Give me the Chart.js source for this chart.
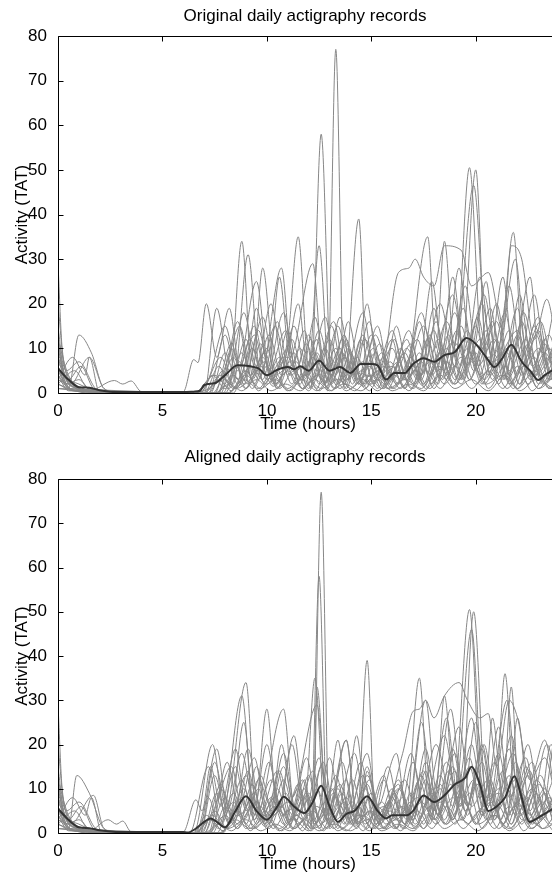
<!DOCTYPE html>
<html>
<head>
<meta charset="utf-8">
<script src="https://cdn.jsdelivr.net/npm/chart.js@4"></script>
<style>
  body { margin: 0; background: #fff; }
  canvas { display: block; }
</style>
</head>
<body>
<canvas id="topChart" width="552" height="440"></canvas>
<canvas id="bottomChart" width="552" height="441"></canvas>
<script>
// 각 곡선은 [시간, 활동량, 시간, 활동량, ...] 형태의 매듭점
const xTicks = [0, 5, 10, 15, 20];
const yTicks = [0, 10, 20, 30, 40, 50, 60, 70, 80];

// ---- 원본 기록 (위 패널) ----
const origMean = [0,5.5, 0.5,3, 1,1.3, 1.5,1.2, 2,0.6, 2.5,0.3, 3,0.2, 6,0.2, 6.5,0.3, 6.8,0.5, 7,1.8, 7.5,2.2, 8,4, 8.6,6.2, 9.2,6, 9.6,5.5, 10,4, 10.5,5.2, 11,5.8, 11.3,5.3, 11.6,6, 12,5, 12.5,7.2, 13,5, 13.5,5.8, 14,4.5, 14.5,6.5, 15,6.5, 15.3,6.2, 15.7,3, 16.1,4.5, 16.6,4.5, 17,6.5, 17.5,7.8, 18,7, 18.5,8.5, 19,9.2, 19.55,12.3, 20,11, 20.5,8, 20.9,5.8, 21.3,8, 21.7,10.8, 22.2,7, 22.6,5, 23,2.9, 23.3,4, 23.7,5.2];
const orig1 = [0,10, 0.4,3, 1,1, 2,0.3, 6,0, 7,0.5, 8,3, 8.5,1, 9.2,6, 10,2, 11,8, 11.7,3, 12.4,12, 12.9,0.5, 13.3,77, 13.7,1, 14.3,8, 15,2, 16,10, 16.6,3, 17.5,15, 18.2,5, 19,18, 19.6,6, 20.4,22, 21,8, 22,14, 22.7,3, 23.5,10, 24.2,2];
const orig2 = [0,20, 0.3,6, 1,2, 2,0.5, 6.5,0, 7.5,4, 8.2,1, 9,12, 9.6,3, 10.4,15, 11,4, 11.6,10, 12.1,1, 12.6,58, 13.1,2, 13.8,12, 14.4,3, 15.2,9, 15.8,1, 16.8,14, 17.4,4, 18.3,20, 19,6, 19.7,50.5, 20.3,10, 21,16, 21.6,4, 22.3,18, 23,5, 23.8,20];
const orig3 = [0,12, 0.5,4, 1.2,1, 2.5,0, 6.8,0, 7.8,8, 8.4,2, 9.1,31, 9.7,4, 10.7,28, 11.2,6, 11.8,14, 12.3,3, 13,12, 13.7,2, 14.4,39, 14.8,2, 15.6,8, 16.3,2, 17.2,12, 17.8,4, 18.6,16, 19.3,6, 20,50, 20.5,8, 21.2,12, 21.8,36, 22.3,6, 23,14, 23.6,3, 24.4,20];
const orig4 = [0,8, 0.6,2, 1.5,8, 2.2,1, 3,0, 7,0, 7.7,6, 8.2,2, 8.8,34, 9.3,4, 9.8,28, 10.4,5, 11,12, 11.5,35, 12,6, 12.5,33, 13,3, 13.6,12, 14.2,4, 14.8,20, 15.3,6, 16,14, 16.6,4, 17.7,35, 18.1,10, 18.5,34, 19,8, 19.9,46.5, 20.6,6, 21.3,26, 21.8,8, 22.6,26, 23.1,4, 23.8,12];
const orig5 = [0,6, 0.5,1, 1,13, 1.6,9, 2.2,1, 3,0, 6.5,0, 7.2,3, 8,15, 8.6,5, 9.5,25, 10.1,6, 10.6,26, 11.1,8, 12.2,29, 12.7,5, 13.4,15, 14,5, 14.7,12, 15.4,3, 16.3,27, 16.8,28, 17.1,30, 17.5,26, 18,24, 18.5,33, 19.3,32, 19.8,24, 20.6,27, 21.3,14, 21.7,33, 22.2,30, 22.8,12, 23.4,21, 24,6];
const orig6 = [0,5, 0.5,1, 1.5,0.5, 2.7,2.8, 3.1,2, 3.5,2.7, 4,0.3, 6,0.3, 6.5,7.5, 6.7,6.8, 7.1,20, 7.6,8, 8.2,19, 8.7,6, 9.4,15, 10,4, 10.8,18, 11.4,5, 12,13, 12.6,3, 13.3,10, 13.9,3, 14.6,13, 15.2,4, 16,12, 16.5,3, 17.4,18, 18,6, 18.9,22, 19.5,8, 20.3,20, 20.9,5, 21.6,24, 22.2,8, 23,17, 23.6,4, 24.3,20];
const orig7 = [0,3, 0.7,8, 1.3,4, 1.5,8, 2,0, 7,0, 7.6,19, 8.2,5, 8.9,18, 9.5,6, 10.2,20, 10.8,5, 11.5,20, 12,4, 12.8,17, 13.3,4, 13.9,16, 14.5,4, 15.3,15, 15.9,3, 16.6,9, 17.2,3, 17.9,25, 18.5,5, 19.2,28, 19.8,8, 20.5,25, 21,6, 21.9,30, 22.4,10, 23.1,16, 23.7,4];
const orig8 = [0,29, 0.2,10, 0.7,2, 1.5,0, 7.5,0, 8.3,11, 8.9,2, 9.6,14, 10.2,3, 11,10, 11.6,2, 12.3,17, 12.9,3, 13.6,9, 14.3,2, 15,13, 15.7,2, 16.5,8, 17.1,2, 18,14, 18.6,3, 19.4,19, 20,5, 20.8,16, 21.4,3, 22.1,22, 22.7,6, 23.5,13, 24.1,2];
const orig9 = [0,11, 0.4,5, 1,7, 1.8,1, 2.5,0, 7.8,0, 8.6,16, 9.2,4, 9.9,9, 10.5,1, 11.3,15, 11.9,4, 12.6,8, 13.2,1, 13.9,10, 14.6,2, 15.4,11, 16,3, 16.9,11, 17.5,2, 18.2,12, 18.8,4, 19.6,14, 20.2,4, 21,20, 21.6,5, 22.4,12, 23,2, 23.7,7];
const orig10 = [0,7, 0.6,2, 1.2,0.5, 8,0, 8.8,9, 9.4,2, 10.1,13, 10.7,4, 11.4,7, 12,1, 12.8,10, 13.4,2, 14.1,7, 14.7,1, 15.5,9, 16.2,2, 17,6, 17.6,1, 18.4,10, 19,3, 19.7,12, 20.4,3, 21.2,9, 21.8,2, 22.5,11, 23.2,2, 24,8];
const orig11 = [0,4, 0.5,0.5, 6.8,0, 7.4,4, 8,1, 8.7,7, 9.3,1, 10,6, 10.6,1, 11.3,5, 12,0.5, 12.7,6, 13.5,1, 14.2,5, 14.9,0.5, 15.6,6, 16.4,1, 17.1,5, 17.8,1, 18.6,7, 19.3,2, 20,9, 20.6,1, 21.4,6, 22,1, 22.8,8, 23.5,1, 24.2,5];
const orig12 = [0,2, 0.8,5, 1.4,1, 2.2,0, 7.2,0, 8,13, 8.6,3, 9.3,10, 9.9,2, 10.6,8, 11.2,2, 11.9,11, 12.5,2, 13.2,7, 13.8,1, 14.5,12, 15.1,2, 15.9,7, 16.6,1, 17.3,9, 17.9,2, 18.7,13, 19.3,3, 20.1,17, 20.7,4, 21.5,10, 22.1,2, 22.9,13, 23.5,3, 24.3,9];
const orig13 = [0,1, 1,0.5, 8.2,0, 9,5, 9.6,0.5, 10.3,4, 11,0.5, 11.7,3, 12.4,0.5, 13.1,4, 13.8,0.5, 14.6,3, 15.3,0.5, 16.1,4, 16.8,0.5, 17.6,5, 18.3,1, 19,6, 19.8,1, 20.6,5, 21.3,1, 22,6, 22.7,0.5, 23.4,4, 24.1,0.5];
const orig14 = [0,15, 0.3,4, 0.9,1, 1.8,0, 7.6,0, 8.4,8, 9,1, 9.7,11, 10.3,2, 11,14, 11.6,3, 12.3,9, 12.9,1, 13.7,13, 14.3,3, 15.1,10, 15.8,2, 16.7,12, 17.3,3, 18,19, 18.6,4, 19.3,15, 19.9,5, 20.7,19, 21.3,3, 22,13, 22.6,3, 23.3,9, 24,2];
const orig15 = [0,5, 0.8,1.5, 1.6,0.2, 7,0, 7.7,3, 8.3,0.5, 9,4, 9.7,1, 10.4,3, 11.1,0.5, 11.8,4, 12.6,1, 13.4,3, 14.2,0.5, 15,4, 15.8,1, 16.6,3, 17.4,1, 18.2,6, 19,2, 19.8,7, 20.5,2, 21.3,4, 22,1, 22.8,5, 23.6,1, 24.4,3];
const orig16 = [0,9, 0.5,3, 1.1,6, 1.7,1, 2.5,0, 7.4,0, 8.1,7, 8.7,15, 9.3,3, 10,10, 10.5,2, 11.2,12, 11.8,3, 12.5,14, 13.1,4, 13.8,11, 14.4,2, 15.2,13, 15.9,4, 16.7,10, 17.4,3, 18.1,16, 18.7,5, 19.5,24, 20.1,6, 20.9,12, 21.5,3, 22.2,16, 22.9,4, 23.6,9];
const orig17 = [0,4, 0.6,1, 7.9,0, 8.5,6, 9.1,2, 9.8,8, 10.4,2, 11.1,7, 11.7,1, 12.4,9, 13,2, 13.7,8, 14.4,2, 15,7, 15.6,1, 16.4,10, 17,2, 17.8,13, 18.4,3, 19.1,11, 19.7,3, 20.5,14, 21.1,3, 21.8,10, 22.5,2, 23.3,11, 23.8,4];
const orig18 = [0,3, 1,1, 2,0, 8.4,0, 9.2,12, 9.8,3, 10.5,16, 11.1,4, 11.8,6, 12.4,1, 13.1,15, 13.7,3, 14.6,18, 15.2,3, 16,6, 16.6,1, 17.3,16, 17.9,4, 18.6,10, 19.2,3, 20,15, 20.6,4, 21.4,18, 22,4, 22.8,22, 23.4,6, 23.8,12];
const orig19 = [0,2, 0.7,0.5, 7.2,0, 7.9,5, 8.5,1, 9.2,3, 9.9,7, 10.5,1, 11.3,9, 11.9,2, 12.6,5, 13.3,1, 14,9, 14.6,2, 15.4,5, 16.1,1, 16.9,8, 17.5,2, 18.3,9, 18.9,2, 19.6,10, 20.3,2, 21,12, 21.6,2, 22.3,7, 23,1, 23.7,6];
const orig20 = [0,6, 0.4,2, 1,3, 1.6,0.5, 7.7,0, 8.3,10, 8.9,3, 9.5,19, 10.1,5, 10.9,14, 11.5,3, 12.2,8, 12.8,2, 13.5,17, 14.1,4, 14.9,6, 15.5,1, 16.2,15, 16.8,4, 17.6,8, 18.2,2, 18.9,26, 19.5,6, 20.2,12, 20.8,3, 21.6,14, 22.2,4, 23,10, 23.7,3];
const orig21 = [0,1, 7.5,0, 8.2,2, 8.8,0.5, 9.5,3, 10.2,0.5, 10.9,2, 11.6,0.5, 12.3,3, 13,0.5, 13.7,2, 14.5,0.5, 15.3,3, 16,0.5, 16.8,2, 17.5,0.5, 18.3,4, 19,1, 19.8,3, 20.6,0.5, 21.4,4, 22.1,0.5, 22.9,3, 23.7,1];
const orig22 = [0,8, 0.4,2, 1,0.5, 7,0, 7.8,4, 8.4,1, 9.1,5, 9.8,17, 10.4,4, 11.1,6, 11.7,1, 12.5,7, 13.2,16, 13.8,3, 14.6,7, 15.3,1, 16.1,12, 16.7,3, 17.4,7, 18,1, 18.8,11, 19.4,3, 20.2,26, 20.8,7, 21.5,9, 22.1,2, 22.8,15, 23.5,4];
const orig23 = [0,3, 0.6,1, 1.4,0, 8.1,0, 8.9,3, 9.6,1, 10.3,5, 11,1, 11.8,4, 12.5,0.5, 13.3,6, 14,1, 14.8,4, 15.5,1, 16.3,5, 17,1, 17.8,7, 18.5,2, 19.3,8, 20,2, 20.8,6, 21.5,1, 22.3,6, 23,1, 23.8,4];
const orig24 = [0,12, 0.3,3, 0.9,0.5, 7.3,0, 8,9, 8.6,2, 9.4,13, 10,3, 10.8,8, 11.4,2, 12.1,12, 12.7,2, 13.5,10, 14.1,2, 14.9,16, 15.5,3, 16.3,7, 16.9,1, 17.7,12, 18.3,3, 19.1,14, 19.7,3, 20.5,11, 21.1,2, 22,19, 22.6,4, 23.3,12, 23.8,5];
const orig25 = [0,2, 1,0.3, 7.6,0, 8.4,4, 9,1, 9.7,6, 10.3,1.5, 11,5, 11.7,1, 12.4,4, 13.1,0.5, 13.9,6, 14.6,1.5, 15.3,5, 16,1, 16.8,6, 17.5,1.5, 18.3,8, 19,2, 19.7,9, 20.4,2, 21.1,7, 21.8,1, 22.6,9, 23.3,2, 23.8,6];

// ---- 정렬된 기록 (아래 패널) ----
const alignMean = [0,5.5, 0.5,3, 1,1.3, 1.5,1.1, 2,0.6, 3,0.2, 6,0.2, 6.2,0.1, 6.6,1, 7,2.5, 7.3,3.3, 7.6,2.5, 8,1.3, 8.5,5, 9,8.3, 9.5,5, 10,3, 10.5,6, 10.8,8.2, 11.3,6, 11.8,4.5, 12.2,7, 12.6,10.7, 13,6, 13.4,2.5, 13.8,4.3, 14.2,5, 14.8,8.3, 15.3,5, 15.7,3.3, 16,4, 16.7,4, 17,5, 17.5,8.5, 18,7, 18.5,8.5, 19,11, 19.5,12.5, 19.8,15, 20.2,11, 20.6,5, 21,6, 21.4,8, 21.85,12.8, 22.2,8, 22.56,2.5, 23,3.5, 23.7,5.5];
const align1 = [0,10, 0.4,3, 1,1, 2,0.3, 6.5,0, 7.3,3, 7.9,0.5, 8.8,8, 9.4,1, 10.4,6, 11,1, 11.8,10, 12.2,1, 12.6,77, 13,1, 13.8,8, 14.4,2, 14.8,14, 15.4,2, 16.4,10, 17,3, 17.6,14, 18.2,4, 19,18, 19.6,6, 20.3,20, 20.9,6, 21.8,18, 22.5,3, 23.3,10, 24,2];
const align2 = [0,20, 0.3,6, 1,2, 2,0.5, 6.3,0, 7.2,15, 7.8,2, 8.8,31, 9.4,3, 10.2,12, 10.8,4, 11.5,10, 12.1,1, 12.5,58, 12.9,2, 13.8,21, 14.3,3, 15,9, 15.6,1, 16.6,12, 17.2,4, 18.1,20, 18.9,6, 19.7,50.5, 20.3,8, 20.9,16, 21.5,4, 22,26, 22.6,5, 23.4,20, 24.1,4];
const align3 = [0,12, 0.5,4, 1.2,1, 2.5,0, 6.5,0, 7.4,20, 8,4, 9,34, 9.5,4, 10.8,28, 11.3,6, 11.8,12, 12.2,3, 12.4,33, 12.9,3, 13.8,12, 14.3,2, 14.8,39, 15.2,2, 16,8, 16.6,2, 17.3,35, 17.8,4, 18.6,16, 19.3,6, 19.9,50, 20.5,8, 21,12, 21.4,36, 21.9,6, 22.6,14, 23.1,3, 23.7,20];
const align4 = [0,8, 0.6,2, 1.7,8.5, 2.2,1, 3,0, 6.7,0, 7.6,19, 8.2,2, 8.9,25, 9.4,4, 10,28, 10.5,5, 11.3,22, 11.8,6, 12.3,35, 12.8,3, 13.4,21, 13.9,4, 14.8,18, 15.3,6, 16.2,18, 16.7,4, 17.6,30, 18.1,10, 18.5,31, 19,8, 19.8,46, 20.4,6, 20.8,26, 21.3,8, 21.7,33, 22.1,6, 22.8,14, 23.3,21, 23.9,4];
const align5 = [0,6, 0.5,1, 0.9,13, 1.5,9, 2.2,1, 3,0, 6.6,0, 7.2,8, 7.7,2, 8.5,15, 9,5, 9.6,12, 10.2,6, 10.7,20, 11.2,8, 12.4,29, 12.9,5, 13.8,21, 14.3,5, 14.9,12, 15.5,3, 16.5,18, 17,27.5, 17.3,28, 17.6,30, 18,26, 18.5,31, 19.2,34, 19.6,30, 20.2,26, 20.6,27, 21,15, 21.6,30, 22,26, 22.6,12, 23.3,17, 23.9,6];
const align6 = [0,5, 0.5,1, 1.5,0.5, 2.4,3, 2.8,2, 3.1,2.7, 3.5,0.3, 6,0.3, 6.6,7.5, 6.9,5, 7.3,15, 7.8,6, 8.5,19, 9,6, 9.5,15, 10.1,4, 10.8,18, 11.4,5, 12,13, 12.5,3, 13.2,10, 13.7,3, 14.3,22, 14.8,4, 15.6,13, 16.1,3, 16.9,18, 17.5,6, 18.5,22, 19.1,8, 19.8,20, 20.4,5, 21.1,24, 21.6,8, 22.4,17, 23,4, 23.6,20, 24.2,8];
const align7 = [0,3, 0.7,8, 1.3,4, 1.6,8, 2.1,0, 6.8,0, 7.5,16, 8.1,5, 8.8,18, 9.4,6, 10,20, 10.6,5, 11.2,20, 11.8,4, 12.5,17, 13,4, 13.6,16, 14.2,4, 14.8,15, 15.4,3, 16.1,9, 16.7,3, 17.4,25, 18,5, 18.8,28, 19.4,8, 20,25, 20.6,6, 21.5,30, 22,10, 22.7,16, 23.3,4, 23.9,12];
const align8 = [0,29, 0.2,10, 0.7,2, 1.5,0, 7,0, 7.8,11, 8.4,2, 9.1,14, 9.7,3, 10.5,10, 11.1,2, 11.9,17, 12.5,3, 13.2,9, 13.8,2, 14.6,13, 15.2,2, 16,8, 16.6,2, 17.5,14, 18.1,3, 18.9,19, 19.5,5, 20.3,16, 20.9,3, 21.7,22, 22.3,6, 23.1,13, 23.7,2];
const align9 = [0,11, 0.4,5, 1,7, 1.8,1, 2.5,0, 7.3,0, 8.1,16, 8.7,4, 9.4,9, 10,1, 10.8,15, 11.4,4, 12.1,8, 12.7,1, 13.4,10, 14.1,2, 14.8,11, 15.4,3, 16.3,11, 16.9,2, 17.6,12, 18.2,4, 19,14, 19.6,4, 20.4,20, 21,5, 21.9,12, 22.5,2, 23.2,7, 23.9,1];
const align10 = [0,7, 0.6,2, 1.2,0.5, 7.6,0, 8.4,9, 9,2, 9.7,13, 10.3,4, 11,7, 11.6,1, 12.4,10, 13,2, 13.7,7, 14.3,1, 15,9, 15.7,2, 16.5,6, 17.1,1, 17.9,10, 18.5,3, 19.2,12, 19.9,3, 20.7,9, 21.3,2, 22,11, 22.7,2, 23.5,8, 24.1,2];
const align11 = [0,4, 0.5,0.5, 6.5,0, 7.1,4, 7.7,1, 8.4,7, 9,1, 9.7,6, 10.3,1, 11,5, 11.7,0.5, 12.4,6, 13.2,1, 13.9,5, 14.6,0.5, 15.3,6, 16.1,1, 16.8,5, 17.5,1, 18.3,7, 19,2, 19.7,9, 20.3,1, 21.1,6, 21.7,1, 22.5,8, 23.2,1, 23.9,5];
const align12 = [0,2, 0.8,5, 1.4,1, 2.2,0, 6.8,0, 7.5,13, 8.1,3, 8.9,10, 9.5,2, 10.2,8, 10.8,2, 11.5,11, 12.1,2, 12.8,7, 13.4,1, 14.1,12, 14.7,2, 15.5,7, 16.2,1, 16.9,9, 17.5,2, 18.3,13, 18.9,3, 19.7,17, 20.3,4, 21.1,10, 21.7,2, 22.5,13, 23.1,3, 23.9,9];
const align13 = [0,1, 1,0.5, 7.8,0, 8.6,5, 9.2,0.5, 9.9,4, 10.6,0.5, 11.3,3, 12,0.5, 12.7,4, 13.4,0.5, 14.2,3, 14.9,0.5, 15.7,4, 16.4,0.5, 17.2,5, 17.9,1, 18.6,6, 19.4,1, 20.2,5, 20.9,1, 21.6,6, 22.3,0.5, 23,4, 23.7,0.5];
const align14 = [0,15, 0.3,4, 0.9,1, 1.8,0, 7.2,0, 8,8, 8.6,1, 9.3,11, 9.9,2, 10.6,14, 11.2,3, 11.9,9, 12.5,1, 13.3,13, 13.9,3, 14.7,10, 15.4,2, 16.3,12, 16.9,3, 17.6,19, 18.2,4, 18.9,15, 19.5,5, 20.3,19, 20.9,3, 21.6,13, 22.2,3, 22.9,9, 23.6,2, 24.3,14];
const align15 = [0,5, 0.8,1.5, 1.6,0.2, 6.6,0, 7.3,3, 7.9,0.5, 8.6,4, 9.3,1, 10,3, 10.7,0.5, 11.4,4, 12.2,1, 13,3, 13.8,0.5, 14.6,4, 15.4,1, 16.2,3, 17,1, 17.8,6, 18.6,2, 19.4,7, 20.1,2, 20.9,4, 21.6,1, 22.4,5, 23.2,1, 24,3];
const align16 = [0,9, 0.5,3, 1.1,6, 1.7,1, 2.5,0, 7,0, 7.6,7, 8.3,15, 8.9,3, 9.6,10, 10.1,2, 10.8,12, 11.4,3, 12.2,14, 12.8,4, 13.5,11, 14.1,2, 14.8,13, 15.5,4, 16.3,10, 17,3, 17.6,16, 18.3,5, 19.2,24, 19.8,6, 20.6,12, 21.2,3, 21.9,16, 22.6,4, 23.3,9, 23.8,3];
const align17 = [0,4, 0.6,1, 7.4,0, 8,6, 8.6,2, 9.3,8, 9.9,2, 10.6,7, 11.2,1, 12,9, 12.6,2, 13.3,8, 14,2, 14.6,7, 15.2,1, 16,10, 16.6,2, 17.4,13, 18,3, 18.8,11, 19.4,3, 20.1,14, 20.7,3, 21.5,10, 22.2,2, 23,11, 23.7,4];
const align18 = [0,3, 1,1, 2,0, 7.9,0, 8.8,12, 9.4,3, 10.1,16, 10.7,4, 11.4,6, 12,1, 12.6,15, 13.2,3, 14.2,18, 14.8,3, 15.6,6, 16.2,1, 17,16, 17.6,4, 18.3,10, 18.9,3, 19.7,15, 20.3,4, 21.1,18, 21.7,4, 22.5,20, 23.1,6, 23.7,12];
const align19 = [0,2, 0.7,0.5, 6.8,0, 7.5,5, 8.1,1, 8.8,3, 9.5,7, 10.1,1, 10.9,9, 11.5,2, 12.2,5, 12.9,1, 13.6,9, 14.2,2, 15,5, 15.7,1, 16.5,8, 17.1,2, 17.9,9, 18.5,2, 19.3,10, 20,2, 20.7,12, 21.3,2, 22,7, 22.7,1, 23.4,6];
const align20 = [0,6, 0.4,2, 1,3, 1.6,0.5, 7.2,0, 7.8,10, 8.4,3, 9.1,19, 9.7,5, 10.5,14, 11.1,3, 11.8,8, 12.3,2, 13,17, 13.6,4, 14.4,6, 15,1, 15.8,15, 16.4,4, 17.2,8, 17.8,2, 18.6,26, 19.2,6, 19.9,12, 20.5,3, 21.3,14, 21.9,4, 22.7,10, 23.4,3];
const align21 = [0,1, 7,0, 7.7,2, 8.3,0.5, 9,3, 9.7,0.5, 10.4,2, 11.1,0.5, 11.8,3, 12.5,0.5, 13.2,2, 14,0.5, 14.8,3, 15.5,0.5, 16.3,2, 17,0.5, 17.8,4, 18.5,1, 19.3,3, 20.1,0.5, 20.9,4, 21.6,0.5, 22.4,3, 23.2,1];
const align22 = [0,8, 0.4,2, 1,0.5, 6.6,0, 7.4,4, 8,1, 8.7,5, 9.4,17, 10,4, 10.7,6, 11.3,1, 12.1,7, 12.7,16, 13.3,3, 14.1,7, 14.8,1, 15.6,12, 16.2,3, 16.9,7, 17.5,1, 18.3,11, 18.9,3, 19.8,26, 20.4,7, 21.1,9, 21.7,2, 22.4,15, 23.1,4, 23.7,8];
const align23 = [0,3, 0.6,1, 1.4,0, 7.7,0, 8.5,3, 9.2,1, 9.9,5, 10.6,1, 11.4,4, 12.1,0.5, 12.9,6, 13.6,1, 14.4,4, 15.1,1, 15.9,5, 16.6,1, 17.4,7, 18.1,2, 18.9,8, 19.6,2, 20.4,6, 21.1,1, 21.9,6, 22.6,1, 23.4,4];
const align24 = [0,12, 0.3,3, 0.9,0.5, 6.9,0, 7.6,9, 8.2,2, 9,13, 9.6,3, 10.4,8, 11,2, 11.7,12, 12.3,2, 13.1,10, 13.7,2, 14.5,16, 15.1,3, 15.9,7, 16.5,1, 17.3,12, 17.9,3, 18.7,14, 19.3,3, 20.1,11, 20.7,2, 21.6,19, 22.2,4, 22.9,12, 23.6,5];
const align25 = [0,2, 1,0.3, 7.2,0, 8,4, 8.6,1, 9.3,6, 9.9,1.5, 10.6,5, 11.3,1, 12,4, 12.7,0.5, 13.5,6, 14.2,1.5, 14.9,5, 15.6,1, 16.4,6, 17.1,1.5, 17.9,8, 18.6,2, 19.3,9, 20,2, 20.7,7, 21.4,1, 22.2,9, 22.9,2, 23.6,6];

const origDays = [orig1, orig2, orig3, orig4, orig5, orig6, orig7, orig8, orig9, orig10, orig11, orig12, orig13,
  orig14, orig15, orig16, orig17, orig18, orig19, orig20, orig21, orig22, orig23, orig24, orig25];
const alignDays = [align1, align2, align3, align4, align5, align6, align7, align8, align9, align10, align11, align12, align13,
  align14, align15, align16, align17, align18, align19, align20, align21, align22, align23, align24, align25];

// 평평한 배열을 {x, y} 점으로 변환
function toPoints(flat) {
  const pts = [];
  for (let i = 0; i < flat.length; i += 2) pts.push({ x: flat[i], y: flat[i + 1] });
  return pts;
}

const FONT = 'Liberation Sans, Arial, Helvetica, sans-serif';

// 틀, 안쪽 눈금, 제목 텍스트 그리기
const framePlugin = {
  id: 'frame',
  afterDraw(chart, args, opts) {
    const { ctx, chartArea: a, scales: { x, y } } = chart;
    ctx.save();
    ctx.strokeStyle = '#000';
    ctx.lineWidth = 1;
    ctx.beginPath();
    const L = Math.round(a.left) + 0.5, T = Math.round(a.top) + 0.5, B = Math.round(a.bottom) + 0.5;
    ctx.moveTo(L, B); ctx.lineTo(L, T); ctx.lineTo(a.right + 1, T);
    ctx.moveTo(L, B); ctx.lineTo(a.right + 1, B);
    xTicks.forEach(v => {
      const px = Math.round(x.getPixelForValue(v)) + 0.5;
      ctx.moveTo(px, T); ctx.lineTo(px, T + 5);
      ctx.moveTo(px, B); ctx.lineTo(px, B - 5);
    });
    yTicks.forEach(v => {
      const py = Math.round(y.getPixelForValue(v)) + 0.5;
      ctx.moveTo(L, py); ctx.lineTo(L + 5, py);
    });
    ctx.stroke();

    ctx.fillStyle = '#000';
    ctx.textAlign = 'center';
    ctx.textBaseline = 'middle';
    ctx.font = '17px ' + FONT;
    ctx.fillText(opts.title, 305, opts.titleY);
    ctx.fillText('Time (hours)', 308, opts.xTitleY);
    ctx.translate(22, (a.top + a.bottom) / 2);
    ctx.rotate(-Math.PI / 2);
    ctx.fillText('Activity (TAT)', 0, 0);
    ctx.restore();
  }
};

function makeChart(id, days, mean, title, padTop, xHeight, titleY, xTitleY) {
  const datasets = [{
    data: toPoints(mean),
    borderColor: '#333333',
    borderWidth: 2,
    order: 0
  }];
  days.forEach(d => datasets.push({
    data: toPoints(d),
    borderColor: '#878787',
    borderWidth: 1,
    order: 1
  }));

  return new Chart(document.getElementById(id), {
    type: 'line',
    data: { datasets: datasets },
    options: {
      responsive: false,
      animation: false,
      layout: { padding: { top: padTop, left: 0, right: 0, bottom: 0 } },
      elements: {
        point: { radius: 0 },
        line: { cubicInterpolationMode: 'monotone', fill: false }
      },
      plugins: {
        legend: { display: false },
        tooltip: { enabled: false },
        frame: { title: title, titleY: titleY, xTitleY: xTitleY }
      },
      scales: {
        x: {
          type: 'linear',
          min: 0,
          max: 23.65,
          grid: { display: false },
          border: { display: false },
          afterFit(s) { s.height = xHeight; },
          afterBuildTicks(s) { s.ticks = xTicks.map(v => ({ value: v })); },
          ticks: {
            color: '#000',
            padding: 0,
            maxRotation: 0,
            font: { family: FONT, size: 17 }
          }
        },
        y: {
          min: 0,
          max: 80,
          grid: { display: false },
          border: { display: false },
          afterFit(s) { s.width = 58; },
          afterBuildTicks(s) { s.ticks = yTicks.map(v => ({ value: v })); },
          ticks: {
            color: '#000',
            padding: 3,
            font: { family: FONT, size: 17 }
          }
        }
      }
    },
    plugins: [framePlugin]
  });
}

makeChart('topChart', origDays, origMean, 'Original daily actigraphy records', 36, 47, 16, 424);
makeChart('bottomChart', alignDays, alignMean, 'Aligned daily actigraphy records', 39, 48, 17, 424);
</script>
</body>
</html>
